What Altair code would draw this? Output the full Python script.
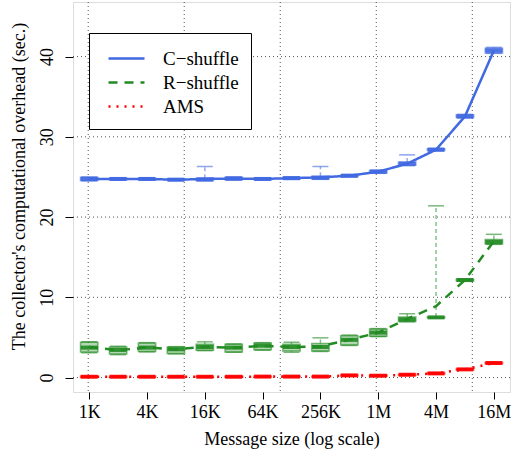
import altair as alt
import pandas as pd

sizes = [1024, 2048, 4096, 8192, 16384, 32768, 65536, 131072, 262144,
         524288, 1048576, 2097152, 4194304, 8388608, 16777216]
tick_values = [1024, 4096, 16384, 65536, 262144, 1048576, 4194304, 16777216]
grid_x = [1e3, 1e4, 1e5, 1e6, 1e7]
grid_y = [0, 10, 20, 30, 40]
series_names = ["C\u2212shuffle", "R\u2212shuffle", "AMS"]
series_colors = ["#4169E1", "#228B22", "#FF0000"]

# C-shuffle
c_lo   = [24.50, 24.60, 24.60, 24.55, 24.50, 24.60, 24.60, 24.70, 24.70, 25.00, 25.45, 26.40, 28.25, 32.35, 40.40]
c_q1   = [24.55, 24.65, 24.65, 24.60, 24.55, 24.65, 24.65, 24.75, 24.75, 25.05, 25.50, 26.45, 28.30, 32.40, 40.45]
c_med  = [24.75, 24.75, 24.75, 24.65, 24.70, 24.80, 24.75, 24.85, 24.90, 25.15, 25.65, 26.65, 28.40, 32.55, 40.75]
c_q3   = [24.95, 24.85, 24.85, 24.75, 24.85, 24.95, 24.85, 24.95, 25.10, 25.25, 25.80, 26.85, 28.50, 32.75, 41.05]
c_hi   = [25.00, 24.90, 24.90, 24.80, 26.30, 25.00, 24.90, 25.00, 26.30, 25.30, 25.85, 27.75, 28.55, 32.80, 41.15]
c_mean = [24.75, 24.75, 24.75, 24.65, 24.75, 24.80, 24.75, 24.85, 24.95, 25.15, 25.65, 26.65, 28.40, 32.55, 40.75]

# R-shuffle
r_lo   = [3.10, 2.85, 3.20, 2.95, 3.35, 3.15, 3.40, 3.15, 3.25, 4.00, 5.10, 6.95, 7.40, 12.00, 16.60]
r_q1   = [3.20, 2.95, 3.25, 3.00, 3.40, 3.20, 3.45, 3.30, 3.30, 4.05, 5.15, 7.00, 7.45, 12.05, 16.65]
r_med  = [3.73, 3.44, 3.73, 3.52, 3.81, 3.73, 3.98, 3.81, 3.81, 4.70, 5.60, 7.25, 7.50, 12.15, 16.90]
r_q3   = [4.40, 3.80, 4.30, 3.80, 4.15, 4.15, 4.30, 4.15, 4.25, 5.20, 6.05, 7.55, 7.55, 12.25, 17.20]
r_hi   = [4.45, 3.90, 4.35, 3.85, 4.45, 4.20, 4.35, 4.40, 4.95, 5.30, 6.10, 7.95, 21.40, 12.30, 17.85]
r_mean = [3.80, 3.40, 3.75, 3.50, 3.85, 3.70, 3.95, 3.80, 3.90, 4.70, 5.60, 7.30, 8.90, 12.15, 17.00]

# AMS
a_lo   = [0.04, 0.04, 0.04, 0.04, 0.04, 0.04, 0.06, 0.06, 0.06, 0.18, 0.15, 0.27, 0.44, 0.94, 1.72]
a_q1   = [0.05, 0.05, 0.05, 0.05, 0.05, 0.05, 0.07, 0.07, 0.07, 0.20, 0.17, 0.29, 0.46, 0.96, 1.74]
a_med  = [0.10, 0.10, 0.10, 0.10, 0.10, 0.10, 0.12, 0.12, 0.12, 0.27, 0.23, 0.35, 0.52, 1.02, 1.81]
a_q3   = [0.15, 0.15, 0.15, 0.15, 0.15, 0.15, 0.17, 0.17, 0.17, 0.34, 0.29, 0.41, 0.58, 1.08, 1.88]
a_hi   = [0.16, 0.16, 0.16, 0.16, 0.16, 0.16, 0.18, 0.18, 0.18, 0.36, 0.31, 0.43, 0.60, 1.10, 1.90]
a_mean = [0.10, 0.10, 0.10, 0.10, 0.10, 0.10, 0.12, 0.12, 0.12, 0.27, 0.23, 0.35, 0.52, 1.02, 1.81]

rows = []
for name, lo, q1, med, q3, hi, mean in [
    (series_names[0], c_lo, c_q1, c_med, c_q3, c_hi, c_mean),
    (series_names[1], r_lo, r_q1, r_med, r_q3, r_hi, r_mean),
    (series_names[2], a_lo, a_q1, a_med, a_q3, a_hi, a_mean),
]:
    for i, s in enumerate(sizes):
        rows.append(dict(series=name, size=s, lo=lo[i], q1=q1[i], med=med[i],
                         q3=q3[i], hi=hi[i], mean=mean[i]))
df = pd.DataFrame(rows)

FONT = "Liberation Serif"
xscale = alt.Scale(type="log", base=2, domain=[694.6, 24700000], nice=False, zero=False)
yscale = alt.Scale(domain=[-1.8, 46.8], nice=False, zero=False)
cscale = alt.Scale(domain=series_names, range=series_colors)
dscale = alt.Scale(domain=series_names, range=[[1, 0], [9, 7], [2, 6]])

xaxis = alt.Axis(values=tick_values, title="Message size (log scale)",
                 labelExpr="datum.value >= 1048576 ? (datum.value/1048576) + 'M' : (datum.value/1024) + 'K'",
                 labelFont=FONT, labelFontSize=18, titleFont=FONT, titleFontSize=18,
                 titleFontWeight="normal", labelColor="black", titleColor="black",
                 tickSize=7, tickColor="black", domain=False, grid=False,
                 labelPadding=4, titlePadding=9)
yaxis = alt.Axis(values=grid_y, title="The collector's computational overhead (sec.)",
                 labelFont=FONT, labelFontSize=18, titleFont=FONT, titleFontSize=18,
                 titleFontWeight="normal", labelColor="black", titleColor="black",
                 tickSize=8, tickColor="black", domain=False, grid=False,
                 labelAngle=270, labelPadding=9, titlePadding=10, titleY=184)

base = alt.Chart(df)

gx = alt.Chart(pd.DataFrame({"gx": grid_x})).mark_rule(
    color="#555", strokeDash=[1, 3], strokeWidth=1
).encode(x=alt.X("gx:Q", scale=xscale, axis=xaxis))
gy = alt.Chart(pd.DataFrame({"gy": grid_y})).mark_rule(
    color="#555", strokeDash=[1, 3], strokeWidth=1
).encode(y=alt.Y("gy:Q", scale=yscale, axis=yaxis))

col = alt.Color("series:N", scale=cscale, legend=None)

whisk_lo = base.mark_rule(strokeDash=[4, 3], strokeWidth=1.5, opacity=0.55).encode(
    x=alt.X("size:Q", scale=xscale), y=alt.Y("lo:Q", scale=yscale), y2="q1:Q", color=col)
whisk_hi = base.mark_rule(strokeDash=[4, 3], strokeWidth=1.5, opacity=0.55).encode(
    x=alt.X("size:Q", scale=xscale), y=alt.Y("q3:Q", scale=yscale), y2="hi:Q", color=col)
staple_lo = base.mark_tick(orient="horizontal", size=16, thickness=1.5, opacity=0.6).encode(
    x=alt.X("size:Q", scale=xscale), y=alt.Y("lo:Q", scale=yscale), color=col)
staple_hi = base.mark_tick(orient="horizontal", size=16, thickness=1.5, opacity=0.6).encode(
    x=alt.X("size:Q", scale=xscale), y=alt.Y("hi:Q", scale=yscale), color=col)
box = base.transform_calculate(
    xl="datum.size * pow(2, -0.3)", xr="datum.size * pow(2, 0.3)"
).mark_rect(fillOpacity=0.35, strokeOpacity=0.6, strokeWidth=1.5).encode(
    x=alt.X("xl:Q", scale=xscale), x2="xr:Q",
    y=alt.Y("q1:Q", scale=yscale), y2="q3:Q",
    fill=alt.Fill("series:N", scale=cscale, legend=None),
    stroke=alt.Stroke("series:N", scale=cscale, legend=None))
median = base.mark_tick(orient="horizontal", size=17, thickness=4, opacity=0.9).encode(
    x=alt.X("size:Q", scale=xscale), y=alt.Y("med:Q", scale=yscale), color=col)

leg = alt.Legend(title=None, orient="none", legendX=16, legendY=31,
                 labelFont=FONT, labelFontSize=19, labelColor="black",
                 symbolType="M-1.5,0H1.5", symbolSize=576, symbolStrokeWidth=2.5,
                 symbolFillColor="transparent",
                 strokeColor="black", fillColor="white", padding=12,
                 symbolOffset=12, labelOffset=23, rowPadding=-1.5)

lines = base.mark_line(strokeWidth=2.5).encode(
    x=alt.X("size:Q", scale=xscale), y=alt.Y("mean:Q", scale=yscale),
    color=alt.Color("series:N", scale=cscale, sort=series_names, legend=leg),
    strokeDash=alt.StrokeDash("series:N", scale=dscale, sort=series_names, legend=leg),
    detail="series:N")

chart = alt.layer(gx, gy, whisk_lo, whisk_hi, staple_lo, staple_hi, box, median, lines).resolve_legend(
    color="independent", fill="independent", stroke="independent", strokeDash="independent"
).properties(
    width=437, height=390,
    autosize=alt.AutoSizeParams(type="none"),
    padding={"left": 73, "top": 2, "right": 2, "bottom": 68},
).configure_view(stroke="black", strokeWidth=1.5).configure(background="white")

chart.save("out.html", embed_options={"renderer": "svg", "actions": False})
